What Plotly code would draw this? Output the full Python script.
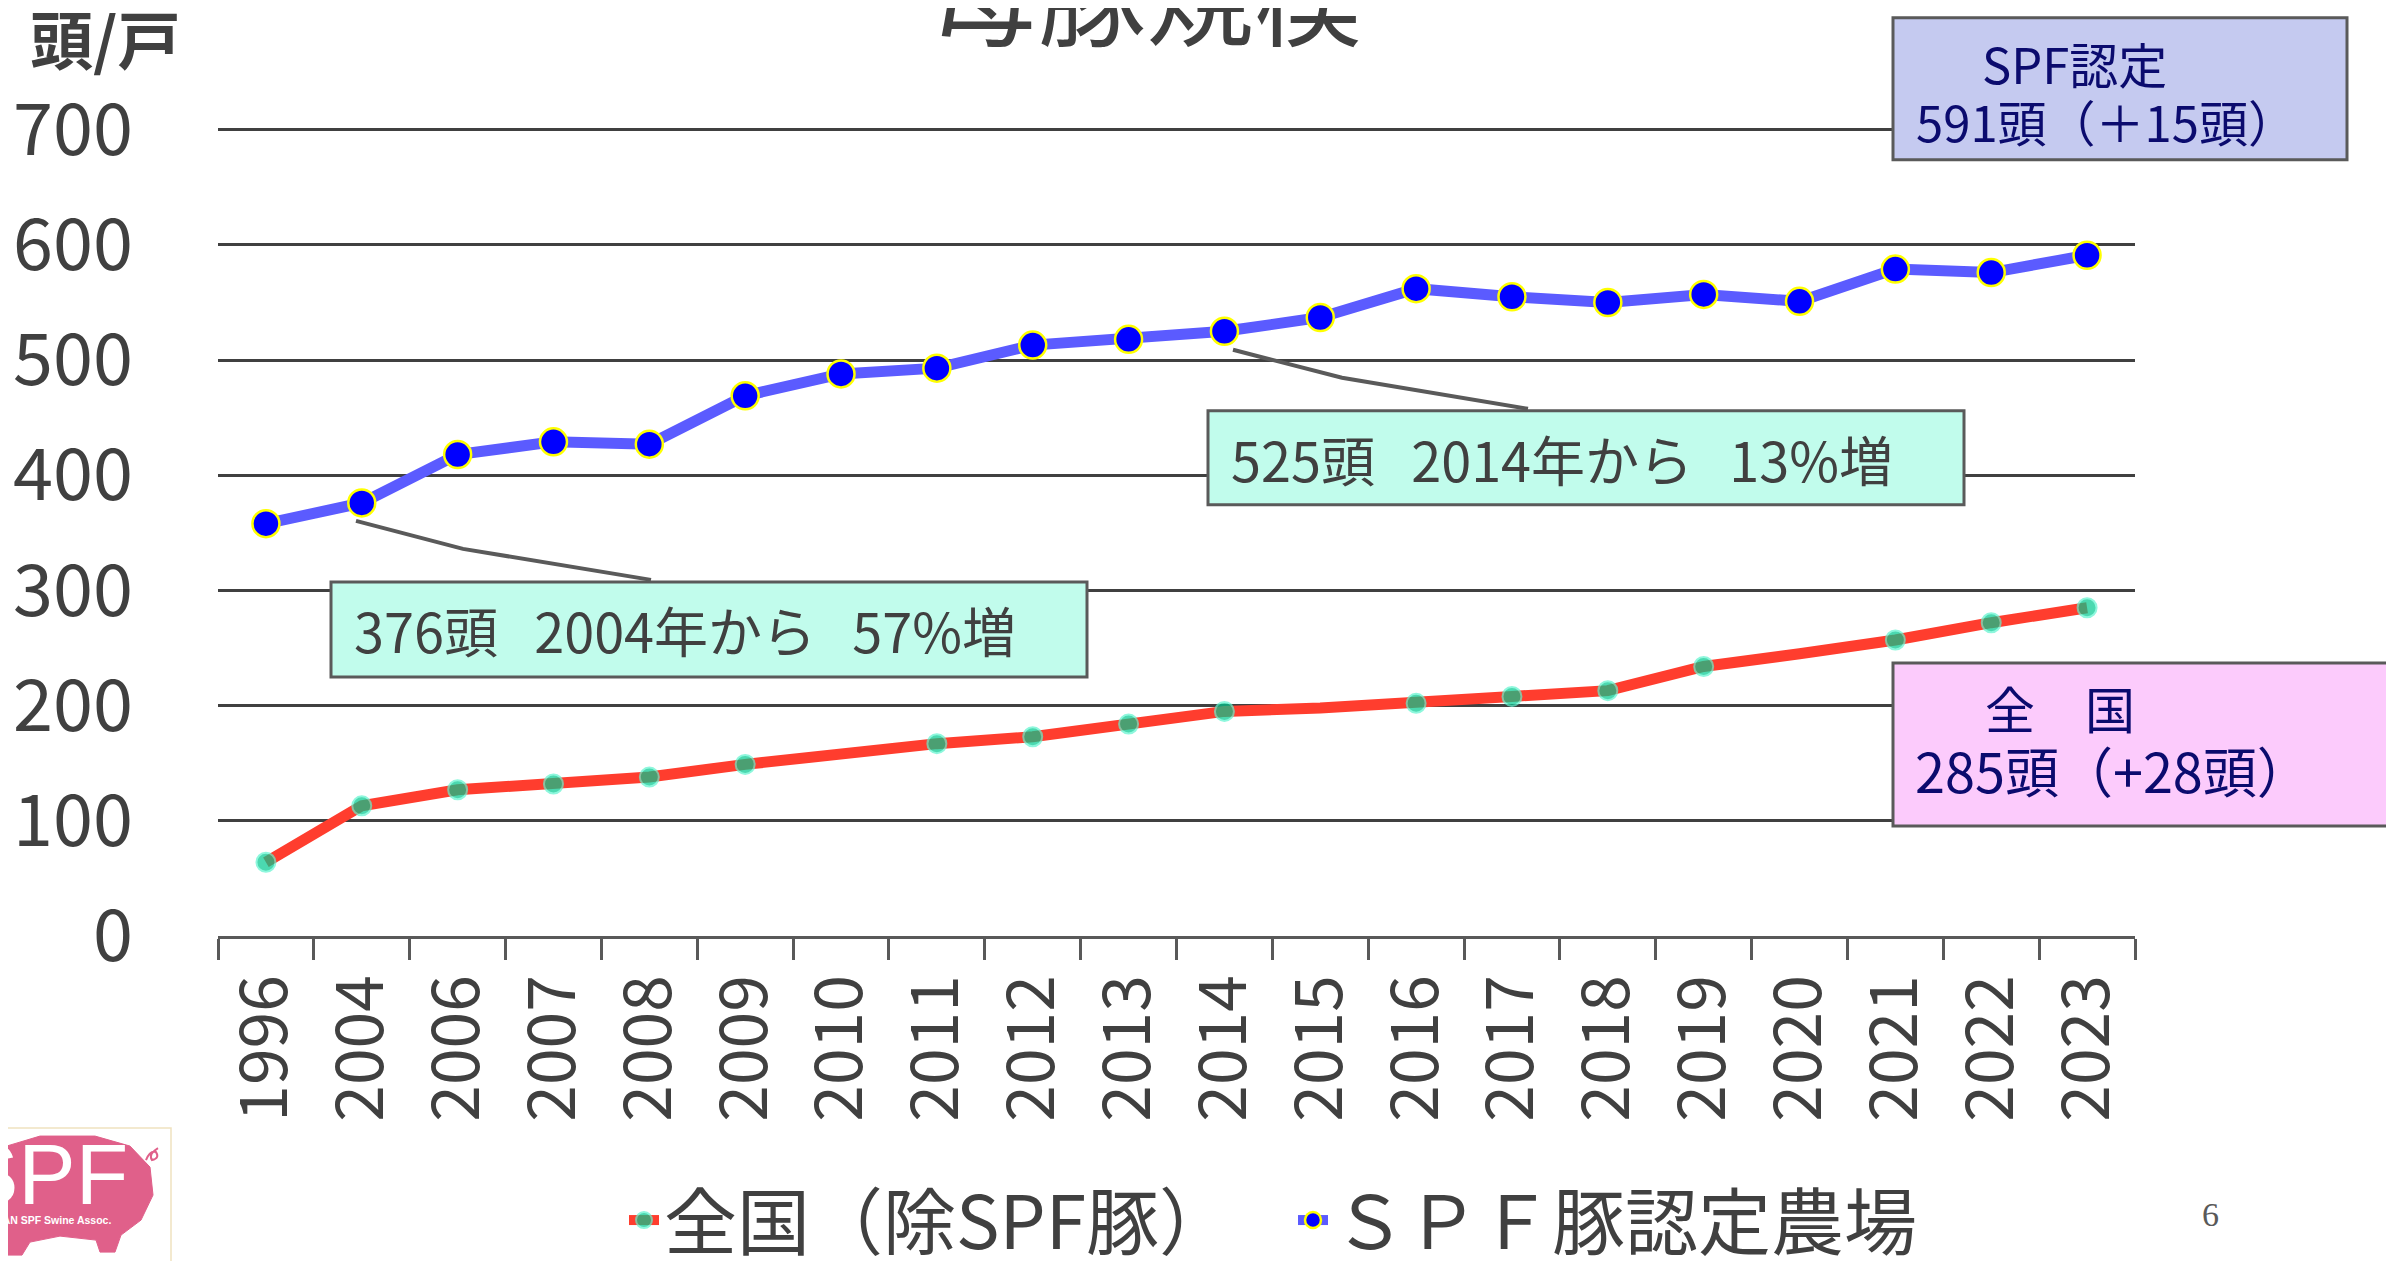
import plotly.graph_objects as go

# ---------------- data ----------------
years = ["1996", "2004", "2006", "2007", "2008", "2009", "2010", "2011", "2012", "2013",
         "2014", "2015", "2016", "2017", "2018", "2019", "2020", "2021", "2022", "2023"]
national = [64, 113, 127, 132, 138, 149, 158, 167, 173, 184,
            195, 198, 202, 208, 213, 234, 245, 257, 272, 285]
spf = [358, 376, 418, 429, 427, 469, 488, 493, 513, 518,
       525, 537, 562, 555, 550, 557, 551, 579, 576, 591]
national_hidden_marker_years = ["2010", "2015", "2020"]
y_ticks = [0, 100, 200, 300, 400, 500, 600, 700]

name_national = "全国（除SPF豚）"
name_spf = "ＳＰＦ豚認定農場"
title_text = "母豚規模"
unit_text = "頭/戸"
SP = "\u00a0\u00a0\u00a0"
note_2004 = "376頭" + SP + "2004年から" + SP + "57%増"
note_2014 = "525頭" + SP + "2014年から" + SP + "13%増"
spf_box_l1 = "SPF認定"
spf_box_l2 = "591頭（＋15頭）"
nat_box_l1 = "全　国"
nat_box_l2 = "285頭（+28頭）"

# ---------------- layout helpers (window pixels -> paper) ----------------
WIN_W, WIN_H = 2394, 1261
OFF = 8                       # default page body margin of the html page
W, H = WIN_W - OFF, WIN_H - OFF
Y_MAX = 701.5
L, R, B = 218, 2135, 936      # plot area in window pixels
T = 130 - (Y_MAX - 700) * (B - 130) / 700
PW, PH = R - L, B - T


def px(x):
    return (x - L) / PW


def py(y):
    return (B - y) / PH


FONT = "Noto Sans CJK JP"
GRAY = "#404040"
NAVY = "#0B0B6E"

nat_sizes = [0 if y in national_hidden_marker_years else 19 for y in years]

fig = go.Figure()
fig.add_trace(go.Scatter(
    x=years, y=national, name=name_national, mode="lines+markers",
    line=dict(color="#FF3D2E", width=11),
    marker=dict(size=nat_sizes, color="#00C98F", line=dict(color="#5FF5CF", width=2)),
))
fig.add_trace(go.Scatter(
    x=years, y=spf, name=name_spf, mode="lines+markers",
    line=dict(color="#5B5BFF", width=11),
    marker=dict(size=27, color="#0000FF", line=dict(color="#FFFF00", width=2.5)),
))

shapes = []
annotations = []


def box(x0, y0, x1, y1, fill):
    shapes.append(dict(type="rect", xref="paper", yref="paper",
                       x0=px(x0), x1=px(x1), y0=py(y1), y1=py(y0),
                       fillcolor=fill, line=dict(color="#5A5A5A", width=3), layer="above"))


def text(x, y, s, size, color, xanchor="left", yanchor="middle", family=FONT):
    annotations.append(dict(xref="paper", yref="paper", x=px(x), y=py(y), text=s,
                            showarrow=False, xanchor=xanchor, yanchor=yanchor,
                            font=dict(family=family, size=size, color=color)))


def leader(points):
    d = "M " + " L ".join(f"{px(a)},{py(b)}" for a, b in points)
    shapes.append(dict(type="path", xref="paper", yref="paper", path=d,
                       line=dict(color="#5A5A5A", width=4), layer="above"))


# callout boxes
box(331, 582, 1087, 677, "#C1FCEC")
text(352, 630, note_2004, 54, GRAY)
leader([(356, 521), (463, 549), (651, 580)])

box(1208, 411, 1964, 505, "#C1FCEC")
text(1229, 459, note_2014, 54, GRAY)
leader([(1233, 350), (1342, 378), (1528, 409)])

box(1893, 18, 2347, 160, "#C5CAF0")
text(1980, 63, spf_box_l1, 49, NAVY)
text(1914, 121, spf_box_l2, 49, NAVY)

box(1893, 663, 2388, 826, "#FCCBFC")
text(1983, 707, nat_box_l1, 50, NAVY)
text(1913, 770, nat_box_l2, 54, NAVY)

# title & unit
text(1146, 71, title_text, 108, GRAY, xanchor="center", yanchor="bottom")
annotations.append(dict(xref="paper", yref="paper", x=px(28), y=py(37), text="<b>" + unit_text + "</b>",
                        showarrow=False, xanchor="left", yanchor="middle",
                        font=dict(family=FONT, size=63, color=GRAY)))

# page number
text(2210, 1214, "6", 34, "#595959", xanchor="center", family="Liberation Serif")

# logo
shapes.append(dict(type="rect", xref="paper", yref="paper", x0=px(-2), x1=px(171), y0=py(1263), y1=py(1128),
                   fillcolor="white", line=dict(color="#F0E2C0", width=1.5), layer="above"))
pig = [(0, 1148), (40, 1136), (95, 1136), (130, 1146), (150, 1167), (153, 1195), (141, 1220), (121, 1235),
       (115, 1252), (100, 1252), (96, 1240), (60, 1236), (30, 1242), (22, 1255), (0, 1255)]
shapes.append(dict(type="path", xref="paper", yref="paper",
                   path="M " + " L ".join(f"{px(a)},{py(b)}" for a, b in pig) + " Z",
                   fillcolor="#E0608A", line=dict(color="#E0608A", width=1), layer="above"))
shapes.append(dict(type="path", xref="paper", yref="paper",
                   path=f"M {px(146)},{py(1160)} Q {px(150)},{py(1150)} {px(156)},{py(1152)} "
                        f"Q {px(160)},{py(1158)} {px(152)},{py(1160)} Q {px(148)},{py(1154)} {px(158)},{py(1148)}",
                   line=dict(color="#E0608A", width=2), layer="above"))
text(44, 1174, "SPF", 86, "white", xanchor="center", family="Liberation Sans")
annotations.append(dict(xref="paper", yref="paper", x=px(113), y=py(1220),
                        text="<b>JAPAN SPF Swine Assoc.</b>", showarrow=False,
                        xanchor="right", yanchor="middle",
                        font=dict(family="Liberation Sans", size=10.5, color="white")))

fig.update_layout(
    width=W, height=H,
    margin=dict(l=L - OFF, r=WIN_W - R, t=T - OFF, b=WIN_H - B, autoexpand=False),
    paper_bgcolor="white", plot_bgcolor="white",
    font=dict(family=FONT, color=GRAY),
    showlegend=True,
    legend=dict(orientation="h", x=px(624), xanchor="left", y=py(1220), yanchor="middle",
                font=dict(family=FONT, size=73, color=GRAY), bgcolor="rgba(0,0,0,0)",
                itemwidth=30, tracegroupgap=0, entrywidth=624, entrywidthmode="pixels"),
    xaxis=dict(type="category", range=[-0.5, len(years) - 0.5], autorange=False,
               showgrid=False, showline=True, linecolor="#595959", linewidth=2.5,
               ticks="outside", tickson="boundaries", ticklen=21, tickwidth=2.5, tickcolor="#595959",
               tickangle=-90, tickfont=dict(family=FONT, size=66, color=GRAY), ticklabelstandoff=10,
               automargin=False),
    yaxis=dict(range=[0, Y_MAX], tickvals=y_ticks, showgrid=True, gridcolor=GRAY, gridwidth=2.5,
               zeroline=False, showline=False, ticks="",
               tickfont=dict(family=FONT, size=72, color=GRAY), ticklabelstandoff=84,
               automargin=False),
    shapes=shapes, annotations=annotations,
)

fig.write_html("out.html")
